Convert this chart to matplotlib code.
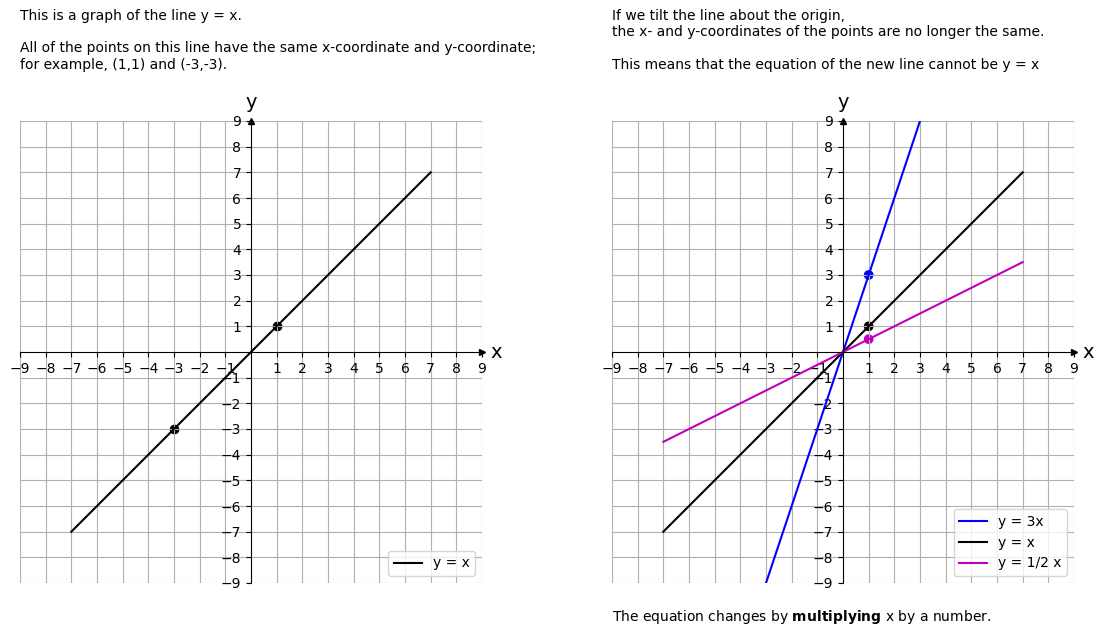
import matplotlib
matplotlib.use("Agg")
import matplotlib.pyplot as plt
import numpy as np

# Data
ticks = [t for t in range(-9, 10) if t != 0]
line_x_range = [-7, 7]
steep_x_range = [-3, 3]
slopes = [3, 1, 0.5]
slope_labels = ["y = 3x", "y = x", "y = 1/2 x"]
slope_colors = ["b", "k", "m"]
slope_ranges = [steep_x_range, line_x_range, line_x_range]
left_points_x = [1, -3]
left_points_y = [1, -3]
right_points_x = [1, 1, 1]
right_points_y = [3, 1, 0.5]

fig = plt.figure(figsize=(11.06, 6.36), dpi=100)
ax1 = fig.add_axes([20/1106, 1-583/636, 462/1106, 462/636])
ax2 = fig.add_axes([612/1106, 1-583/636, 462/1106, 462/636])


def style(ax):
    ax.set_xlim(-9, 9)
    ax.set_ylim(-9, 9)
    ax.spines['left'].set_position('zero')
    ax.spines['bottom'].set_position('zero')
    ax.spines['top'].set_visible(False)
    ax.spines['right'].set_visible(False)
    ax.set_xticks(ticks)
    ax.set_yticks(ticks)
    ax.grid(True)
    ax.plot(1, 0, ">k", transform=ax.get_yaxis_transform(), clip_on=False, markersize=5)
    ax.plot(0, 1, "^k", transform=ax.get_xaxis_transform(), clip_on=False, markersize=5)
    ax.text(1.03, 0.0, "x", transform=ax.get_yaxis_transform(), fontsize=14, ha='center', va='center')
    ax.text(0.0, 1.04, "y", transform=ax.get_xaxis_transform(), fontsize=14, ha='center', va='center')


style(ax1)
ax1.plot(line_x_range, [v * 1 for v in line_x_range], 'k', label="y = x")
ax1.scatter(left_points_x, left_points_y, color='k')
ax1.legend(loc='lower right')

style(ax2)
for s, lab, col, rng in zip(slopes, slope_labels, slope_colors, slope_ranges):
    ax2.plot(rng, [s * v for v in rng], color=col, label=lab)
ax2.scatter(right_points_x, right_points_y, color=slope_colors)
ax2.legend(loc='lower right')

fig.text(20/1106, 1-9/636,
         "This is a graph of the line y = x.\n\nAll of the points on this line have the same x-coordinate and y-coordinate;\nfor example, (1,1) and (-3,-3).",
         ha='left', va='top', fontsize=10)
fig.text(612/1106, 1-9/636,
         "If we tilt the line about the origin,\nthe x- and y-coordinates of the points are no longer the same.\n\nThis means that the equation of the new line cannot be y = x",
         ha='left', va='top', fontsize=10)
fig.text(612/1106, 1-617/636,
         r"The equation changes by $\bf{multiplying}$ x by a number.",
         ha='left', va='center', fontsize=10)

fig.savefig("out.png", dpi=100)
